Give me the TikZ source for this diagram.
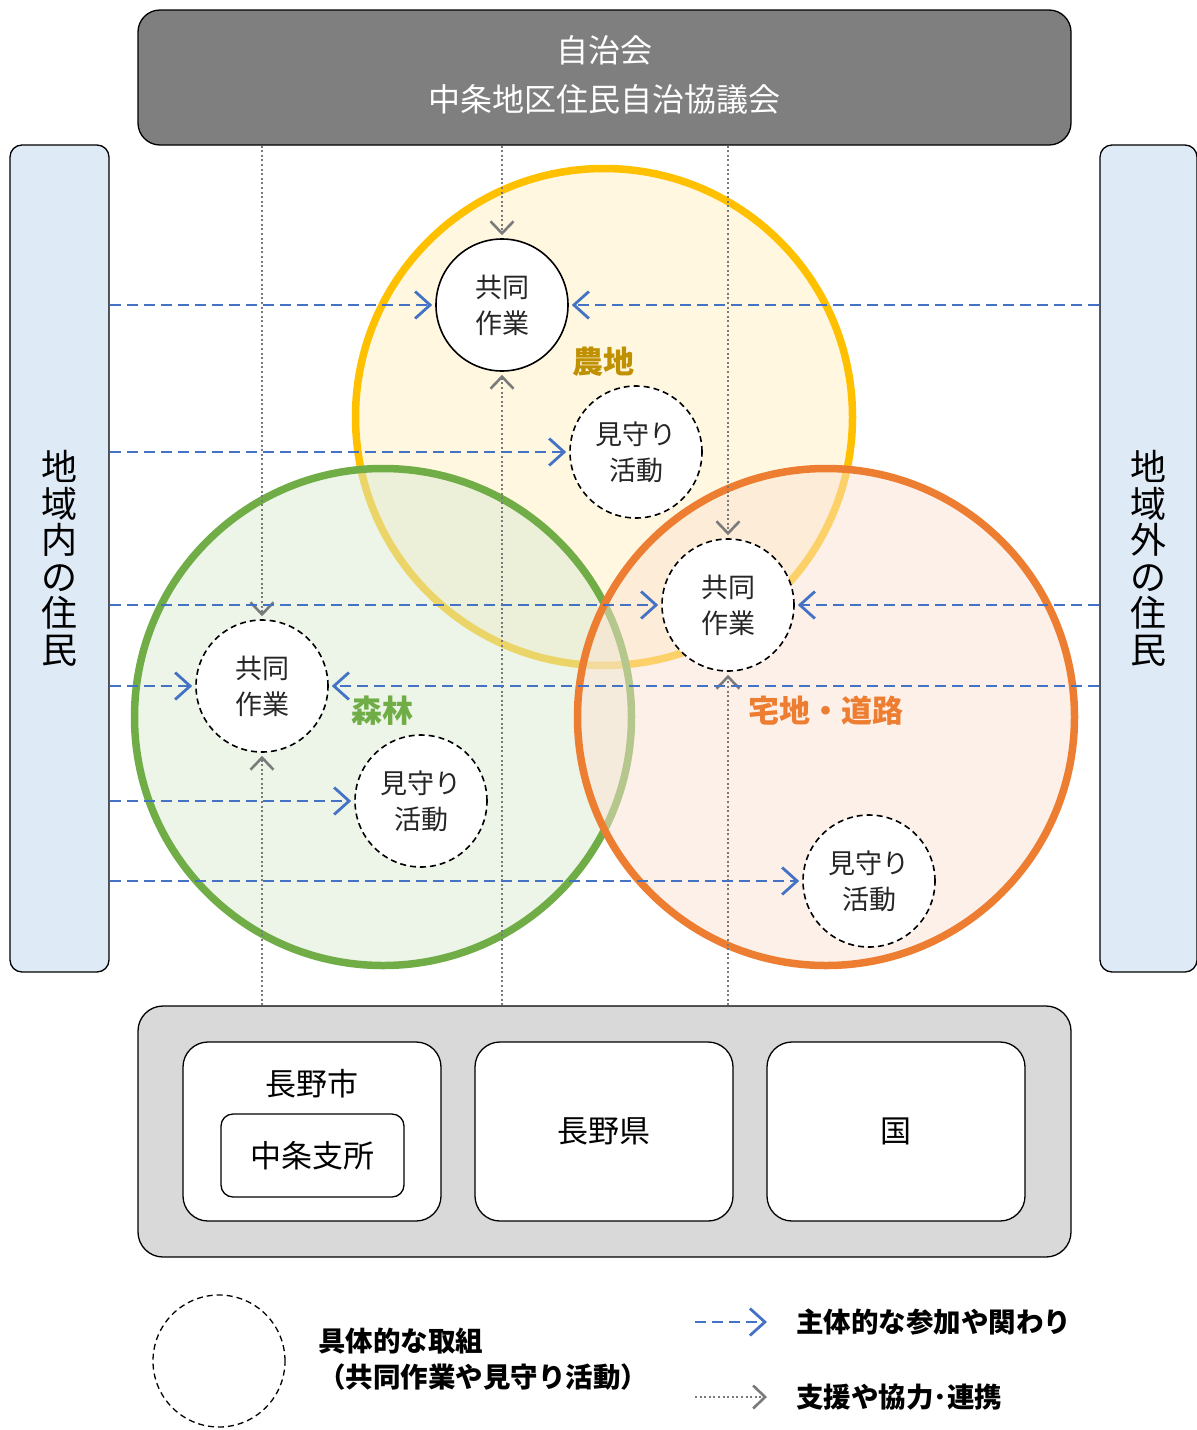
\documentclass[tikz,border=0pt]{standalone}
\usepackage{fontspec}
\setmainfont{Noto Sans CJK JP}
\usetikzlibrary{arrows.meta}

\definecolor{headgray}{HTML}{7F7F7F}
\definecolor{basegray}{HTML}{D9D9D9}
\definecolor{sideblue}{HTML}{DEEBF7}
\definecolor{farmC}{HTML}{FFC000}
\definecolor{farmT}{HTML}{BF9000}
\definecolor{forestC}{HTML}{70AD47}
\definecolor{homeC}{HTML}{ED7D31}
\definecolor{linkblue}{HTML}{4472C4}
\definecolor{aidgray}{HTML}{7A7A7A}

\tikzset{
	zone/.style={circle, line width=7.5pt, minimum size=497pt, inner sep=0pt, fill opacity=.5},
	zonelbl/.style={font=\fontsize{31}{31}\selectfont\bfseries, inner sep=0pt},
	box/.style={draw, line width=1.3pt, align=center, inner sep=0pt},
	task/.style={circle, draw, line width=1.6pt, dash pattern=on 6pt off 4pt, fill=white, minimum size=132pt, inner sep=0pt, align=center, text=black!85, font=\fontsize{27}{36}\selectfont},
	partic/.style={draw=linkblue, line width=2.8pt, dash pattern=on 11pt off 6pt, -{Straight Barb[length=15pt, width=27pt, line width=2.8pt]}, shorten >=3pt},
	aid/.style={draw=aidgray, line width=2.2pt, dash pattern=on 2pt off 2.6pt, -{Straight Barb[length=12pt, width=23pt, line width=2.6pt]}, shorten >=3pt},
	keytxt/.style={font=\fontsize{27.5}{36}\selectfont\bfseries, inner sep=0pt}
}

\begin{document}
\begin{tikzpicture}[x=1pt, y=-1pt]
	\useasboundingbox (0,0) rectangle (1197,1430);
	\clip (0,0) rectangle (1197,1430);

	% Zones
	\node[zone, draw=farmC, fill=farmC!12, fill opacity=1] (farm) at (604,417) {};
	\node[zone, draw=forestC, fill=forestC!25] (forest) at (383,717) {};
	\node[zone, draw=homeC, fill=homeC!22] (home) at (826,717) {};
	\node[zonelbl, text=farmT] (farmlbl) at (603,362) {農地};
	\node[zonelbl, text=forestC] (forestlbl) at (382,711) {森林};
	\node[zonelbl, text=homeC] (homelbl) at (826,711) {宅地・道路};

	% Boxes
	\node[box, fill=headgray, text=white, minimum width=933pt, minimum height=135pt, rounded corners=22pt, font=\fontsize{32}{49}\selectfont, text depth=8pt] (council) at (604.5,77.5) {自治会\\中条地区住民自治協議会};
	\node[box, fill=sideblue, minimum width=99pt, minimum height=827pt, rounded corners=12pt, font=\fontsize{36}{36.5}\selectfont] (inner) at (59.5,558.5) {地\\域\\内\\の\\住\\民};
	\node[box, fill=sideblue, minimum width=97pt, minimum height=827pt, rounded corners=12pt, font=\fontsize{36}{36.5}\selectfont] (outer) at (1148.5,558.5) {地\\域\\外\\の\\住\\民};

	\node[box, fill=basegray, minimum width=933pt, minimum height=251pt, rounded corners=25pt] (gov) at (604.5,1131.5) {};
	\node[box, fill=white, minimum width=258pt, minimum height=179pt, rounded corners=25pt] (city) at (312,1131.5) {};
	\node[font=\fontsize{31}{31}\selectfont, inner sep=0pt] (citytxt) at (312,1084) {長野市};
	\node[box, fill=white, minimum width=183pt, minimum height=83pt, rounded corners=12pt, font=\fontsize{31}{31}\selectfont] (branch) at (312.5,1155.5) {中条支所};
	\node[box, fill=white, minimum width=258pt, minimum height=179pt, rounded corners=25pt, font=\fontsize{31}{31}\selectfont] (pref) at (604,1131.5) {長野県};
	\node[box, fill=white, minimum width=258pt, minimum height=179pt, rounded corners=25pt, font=\fontsize{31}{31}\selectfont] (nation) at (896,1131.5) {国};

	% Activities
	\node[task, solid] (f1) at (502,305) {共同\\作業};
	\node[task] (f2) at (636,452) {見守り\\活動};
	\node[task] (h1) at (728,605) {共同\\作業};
	\node[task] (h2) at (869,881) {見守り\\活動};
	\node[task] (w1) at (262,686) {共同\\作業};
	\node[task] (w2) at (421,801) {見守り\\活動};

	% Support
	\draw[aid] (council.south -| f1) -- (f1);
	\draw[aid] (gov.north -| f1) -- (f1);
	\draw[aid] (council.south -| h1) -- (h1);
	\draw[aid] (gov.north -| h1) -- (h1);
	\draw[aid] (council.south -| w1) -- (w1);
	\draw[aid] (gov.north -| w1) -- (w1);

	% Participation
	\draw[partic] (inner.east |- f1) -- (f1);
	\draw[partic] (outer.west |- f1) -- (f1);
	\draw[partic] (inner.east |- f2) -- (f2);
	\draw[partic] (inner.east |- h1) -- (h1);
	\draw[partic] (outer.west |- h1) -- (h1);
	\draw[partic] (inner.east |- w1) -- (w1);
	\draw[partic] (outer.west |- w1) -- (w1);
	\draw[partic] (inner.east |- w2) -- (w2);
	\draw[partic] (inner.east |- h2) -- (h2);

	% Legend
	\node[task, line width=1.3pt] (keycirc) at (219,1361) {};
	\node[keytxt, anchor=west, align=left] (keytask) at (318,1359) {具体的な取組\\（共同作業や見守り活動）};
	\coordinate (j0) at (695,1322);
	\coordinate (j1) at (767,1322);
	\draw[partic, shorten >=0pt] (j0) -- (j1);
	\node[keytxt, anchor=west] (keyjoin) at (796,1322) {主体的な参加や関わり};
	\coordinate (a0) at (695,1397);
	\coordinate (a1) at (767,1397);
	\draw[aid, shorten >=0pt] (a0) -- (a1);
	\node[keytxt, anchor=west] (keyaid) at (796,1397) {支援や協力･連携};
\end{tikzpicture}
\end{document}
